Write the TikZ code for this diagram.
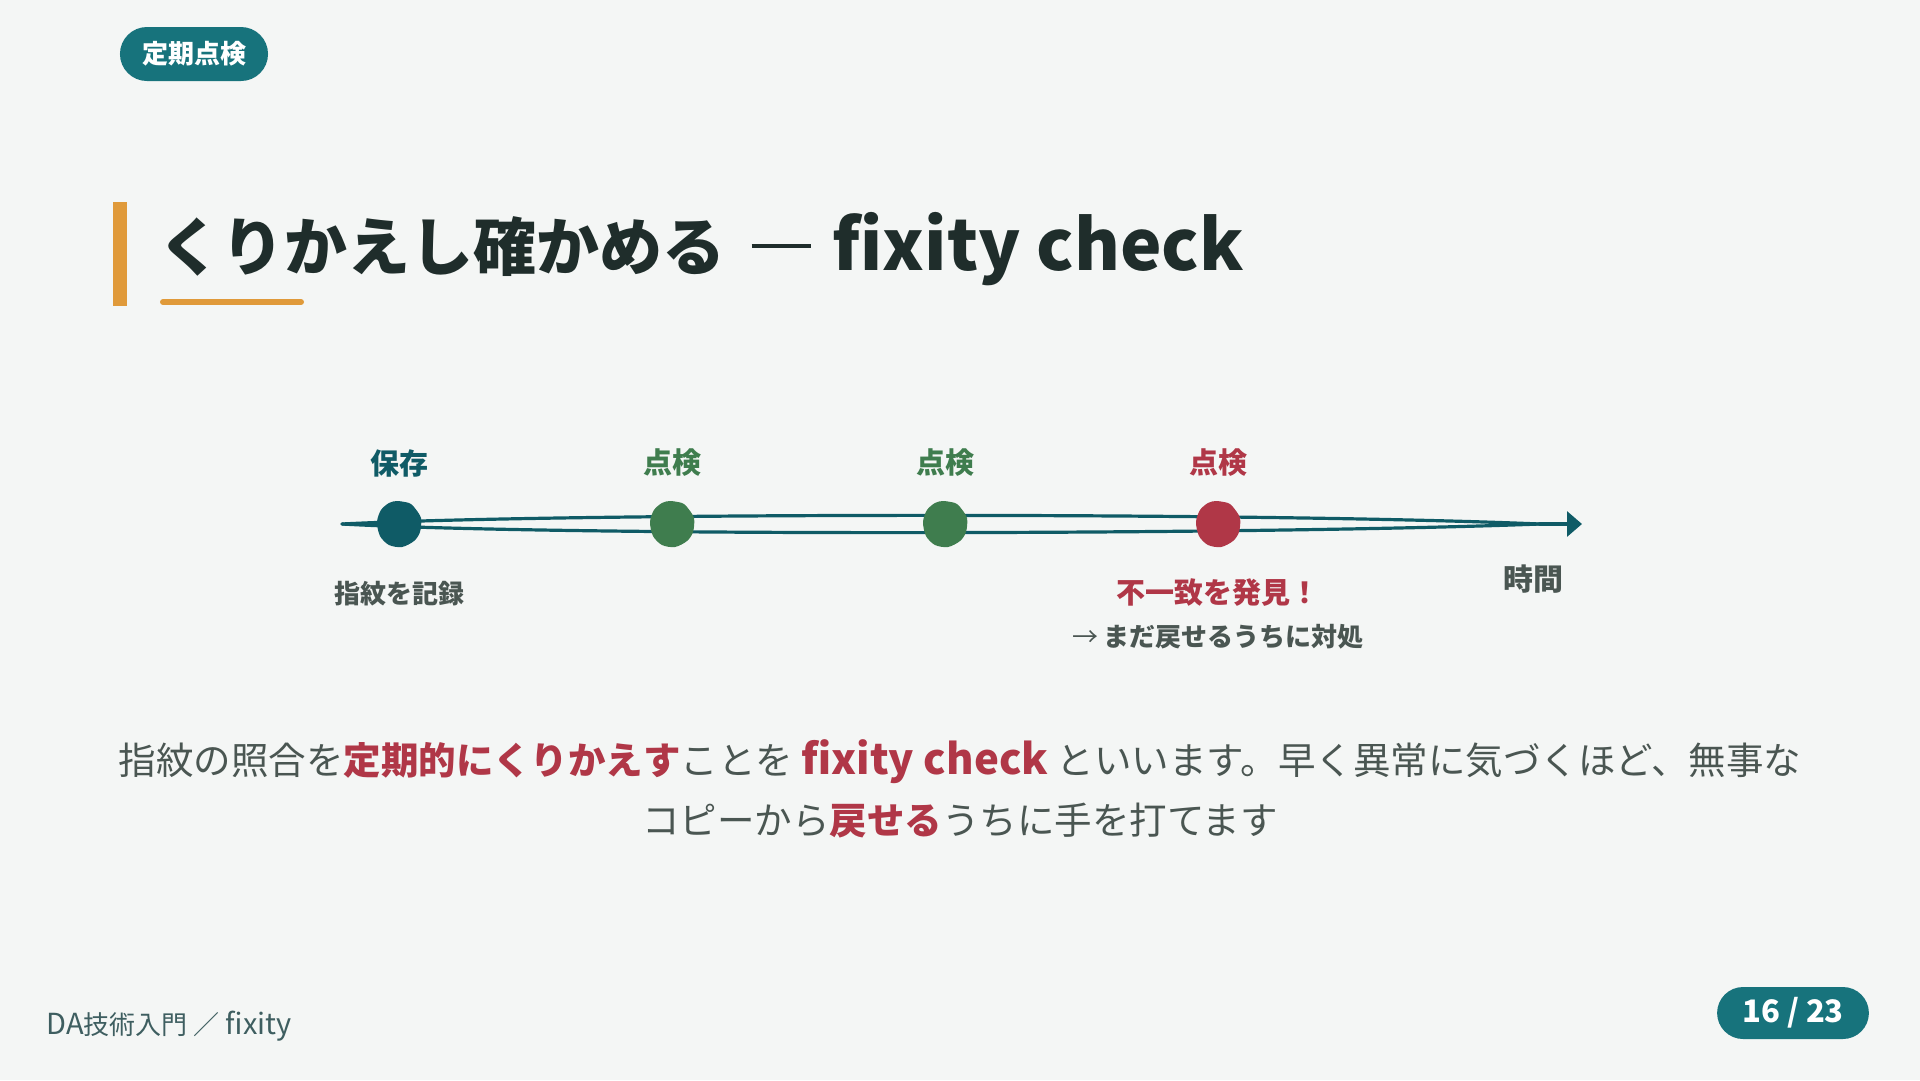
\documentclass[tikz,border=0pt]{standalone}
\usepackage{fontspec}
\setmainfont{Noto Sans CJK JP}
\usetikzlibrary{arrows.meta,positioning,shapes.misc}
\definecolor{bgpaper}{HTML}{F4F6F5}
\definecolor{pillteal}{HTML}{17737C}
\definecolor{lineteal}{HTML}{0F5B66}
\definecolor{chkgreen}{HTML}{3F7D4E}
\definecolor{alertred}{HTML}{B03747}
\definecolor{accentorange}{HTML}{E09A3A}
\definecolor{titleink}{HTML}{1F2D2B}
\definecolor{bodyink}{HTML}{4A5652}
\definecolor{footink}{HTML}{3E5E60}
\newcommand\latinpart[2]{{\fontsize{#1}{#1}\selectfont #2}}
\tikzset{
  pill/.style={rounded rectangle,fill=pillteal,text=white,
    font=\bfseries\fontsize{26}{30}\selectfont,minimum height=54pt,inner xsep=19pt},
  toplbl/.style={font=\bfseries\fontsize{29}{34}\selectfont},
  botlbl/.style={font=\bfseries\fontsize{26}{30}\selectfont,text=bodyink},
  blob/.style={circle,minimum size=44pt,inner sep=0pt},
  tline/.style={lineteal,line width=3.2pt,line cap=round},
}
\begin{document}
\begin{tikzpicture}[x=1pt,y=-1pt]
 \fill[bgpaper] (0,0) rectangle (1920,1080);
 \useasboundingbox (0,0) rectangle (1920,1080);
 % tag and title
 \node[pill] (tag) at (194,54) {定期点検};
 \fill[accentorange] (113,202) rectangle (127,306);
 \node[anchor=west,text=titleink,font=\bfseries\fontsize{63}{70}\selectfont]
   (title) at (155,249) {くりかえし確かめる\hspace{26pt}\rule[0.36em]{59pt}{3.5pt}\hspace{22pt}\latinpart{70}{fixity check}};
 \draw[accentorange,line width=6pt,line cap=round] (163,302) -- (301,302);
 % timeline
 \coordinate (tstart) at (342,524);
 \coordinate (tend) at (1582,524);
 \coordinate (tnear) at (1540,524);
 \draw[tline] (tstart) .. controls (560,513) and (1250,512) .. (tnear);
 \draw[tline] (tstart) .. controls (560,536) and (1250,535) .. (tnear);
 \draw[tline,-{Triangle[length=15pt,width=25pt]}] (tnear) -- (tend);
 \node[blob] (keep) at (399,524) {};
 \node[blob] (chk1) at (672,524) {};
 \node[blob] (chk2) at (945,524) {};
 \node[blob] (chk3) at (1218,524) {};
 \foreach \b/\c in {keep/lineteal,chk1/chkgreen,chk2/chkgreen,chk3/alertred}
   \fill[\c,shift={(\b)}] plot[smooth cycle] coordinates
     {(-2,-23) (10,-21) (15,-17) (22,-6) (21,8) (15,17) (3,23) (-10,21) (-19,12) (-22,-2) (-18,-14) (-10,-21)};
 \node[toplbl,text=lineteal] (keeplbl) at (399,463) {保存};
 \node[toplbl,text=chkgreen] (chk1lbl) at (672,463) {点検};
 \node[toplbl,text=chkgreen] (chk2lbl) at (945,463) {点検};
 \node[toplbl,text=alertred] (chk3lbl) at (1218,463) {点検};
 \node[botlbl] (finger) at (399,594) {指紋を記録};
 \node[toplbl,text=alertred] (found) at (1218,593) {不一致を発見！};
 \node[botlbl] (act) at (1218,637) {{\mdseries →} まだ戻せるうちに対処};
 \node[botlbl,font=\bfseries\fontsize{30}{34}\selectfont] (timelbl) at (1533,579) {時間};
 % explanation
 \node[align=center,text=bodyink,font=\fontsize{37.5}{60}\selectfont] (expl) at (960,789)
   {指紋の照合を\textcolor{alertred}{\bfseries 定期的にくりかえす}ことを \textcolor{alertred}{\bfseries\latinpart{42}{fixity check}} といいます。早く異常に気づくほど、無事な\\
    コピーから\textcolor{alertred}{\bfseries 戻せる}うちに手を打てます};
 % footer
 \node[anchor=west,text=footink,font=\fontsize{26}{30}\selectfont] (foot) at (43,1026)
   {\latinpart{29}{DA}技術入門\hspace{6pt}／\hspace{6pt}\latinpart{29}{fixity}};
 \node[pill,font=\bfseries\fontsize{31}{34}\selectfont,minimum height=52pt,inner xsep=20pt] (page) at (1793,1013) {16 / 23};
\end{tikzpicture}
\end{document}
